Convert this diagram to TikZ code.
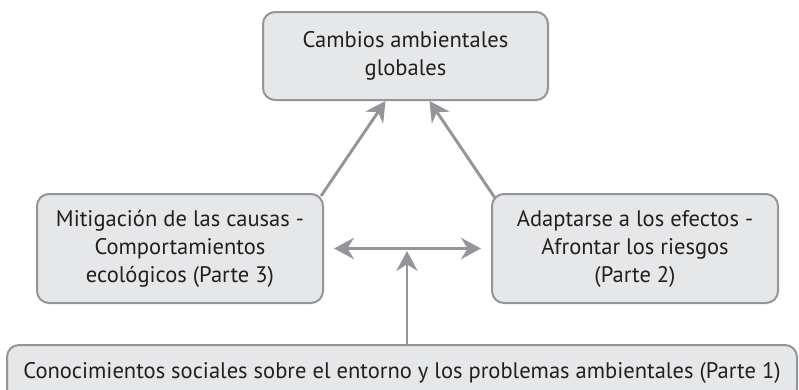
\documentclass[tikz,border=0pt]{standalone}
\usepackage{fontspec}
\setmainfont{PT Sans}
\usetikzlibrary{arrows.meta,calc}
\definecolor{boxfill}{HTML}{E6E7E8}
\definecolor{boxline}{HTML}{939598}
\definecolor{txt}{HTML}{231F20}
\begin{document}
\begin{tikzpicture}[x=0.75pt,y=-0.75pt,
  box/.style={draw=boxline,fill=boxfill,line width=1.5pt,rounded corners=9pt,
    align=center,text=txt,font=\fontsize{16.9}{21}\selectfont,inner sep=0pt},
  conn/.style={draw=boxline,line width=2.2pt,
    -{Stealth[length=15pt,width=16pt,inset=5pt]}}]
\useasboundingbox (0,0) rectangle (799,389);
\begin{scope}
\clip (0,0) rectangle (799,389);
\node[box,minimum width=285*0.75pt,minimum height=88*0.75pt] (T) at (405.5,56)
  {Cambios ambientales\\globales};
\node[box,minimum width=286*0.75pt,minimum height=109*0.75pt] (L) at (180,248.5)
  {Mitigación de las causas -\\Comportamientos\\ecológicos (Parte 3)};
\node[box,minimum width=286*0.75pt,minimum height=109*0.75pt] (R) at (635,248.5)
  {Adaptarse a los efectos -\\Afrontar los riesgos\\(Parte 2)};
\node[box,minimum width=790*0.75pt,minimum height=56*0.75pt] (B) at (402,373)
  {Conocimientos sociales sobre el entorno y los problemas ambientales (Parte 1)};
\end{scope}
\draw[conn] ($(L.north east)+(-3,3)$) -- ($(T.south)+(-20,0)$);
\draw[conn] ($(R.north west)+(4,5)$) -- ($(T.south)+(24,0)$);
\draw[conn,{Stealth[length=15pt,width=16pt,inset=5pt]}-{Stealth[length=15pt,width=16pt,inset=5pt]}]
  ($(L.east)+(10,0)$) -- ($(R.west)+(-10,0)$);
\coordinate (m) at (407,251);
\draw[conn] (B.north -| m) -- (m);
\end{tikzpicture}
\end{document}
